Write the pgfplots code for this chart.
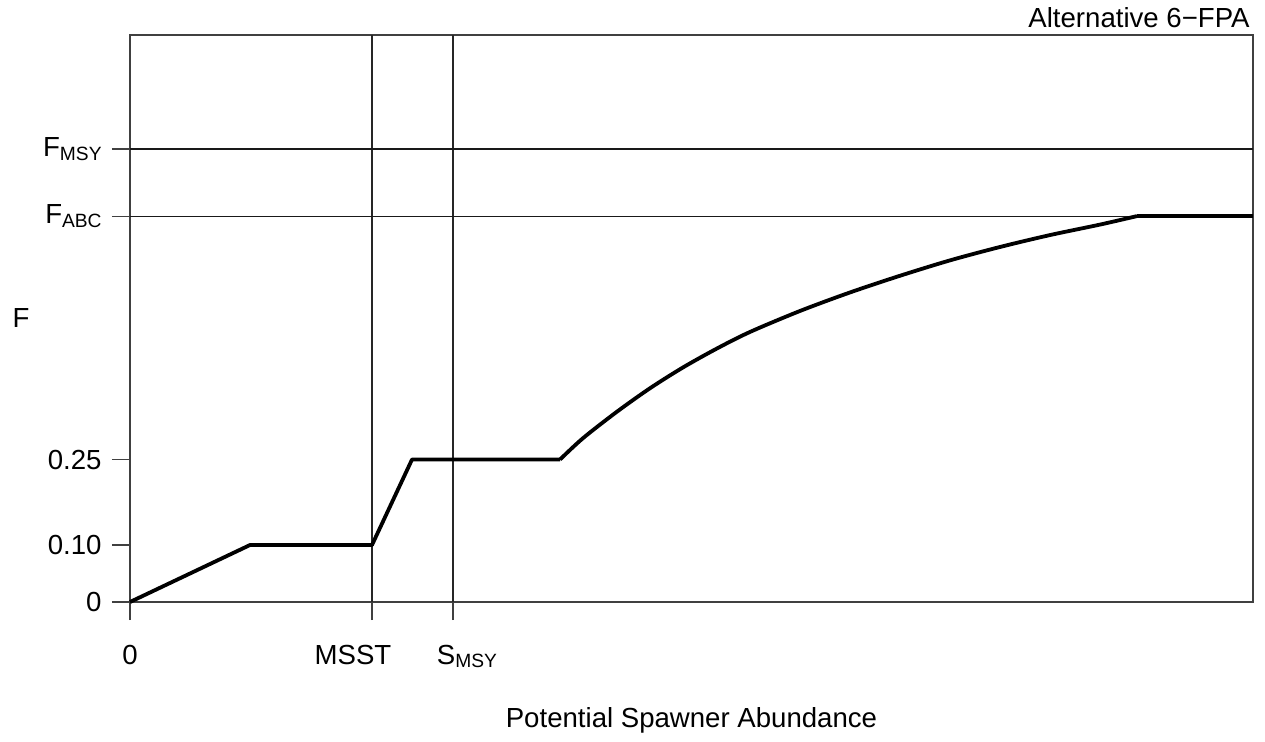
\documentclass[border=0pt]{standalone}
\usepackage{fontspec}
\setmainfont{Liberation Sans}
\usepackage{pgfplots}
\pgfplotsset{compat=1.18}

\newcommand{\sub}[1]{\raisebox{-1.7pt}{\fontsize{9.6}{10}\selectfont #1}}

% harvest control rule, x in arbitrary abundance units (S_MSY = 323)
\pgfplotstableread{
x     F
0     0
120   0.10
242   0.10
282   0.25
430   0.25
}\hcrlow
\pgfplotstableread{
x     F
430   0.25
453   0.2875
487   0.3340
520   0.3751
553   0.4116
587   0.4449
620   0.4739
670   0.5107
720   0.5432
770   0.5725
820   0.5995
870   0.6230
920   0.6439
970   0.6623
1007  0.6772
}\hcrcurve
\pgfplotstableread{
x     F
1007  0.6772
1123  0.6772
}\hcrtop

\begin{document}
\fontsize{13.8}{16}\selectfont
\begin{tikzpicture}
\begin{axis}[
    name=ax,
    scale only axis,
    width=561.5pt, height=283.5pt,
    xmin=0, xmax=1123, ymin=0, ymax=0.995,
    axis line style={black!75, line width=0.6pt},
    tick style={black!75, line width=0.6pt},
    tick align=outside,
    major tick length=9pt,
    xtick pos=bottom, ytick pos=left,
    xtick={0,242,323},
    xticklabels={0,{\hspace*{-19pt}MSST},{S\sub{MSY}\hspace*{-14pt}}},
    ytick={0,0.10,0.25,0.677,0.795},
    yticklabels={0,0.10,0.25,F\sub{ABC},F\sub{MSY}},
    ticklabel style={font=\fontsize{13.8}{16}\selectfont},
    xticklabel style={anchor=base, yshift=-22pt},
    yticklabel style={anchor=east, inner sep=0pt, xshift=-5pt},
    xlabel={Potential Spawner Abundance},
    ylabel={F},
    every axis x label/.style={at={(rel axis cs:0.5,0)}, anchor=base, yshift=-62.5pt, font=\fontsize{13.8}{16}\selectfont},
    every axis y label/.style={at={(rel axis cs:0,0.5)}, anchor=center, xshift=-54.5pt, font=\fontsize{13.8}{16}\selectfont},
    clip=false,
]
% reference lines
\addplot[black!85, line width=0.6pt] coordinates {(242,0) (242,0.995)};
\addplot[black!85, line width=0.6pt] coordinates {(323,0) (323,0.995)};
\addplot[black!90, line width=0.6pt] coordinates {(0,0.795) (1123,0.795)};
\addplot[black!90, line width=0.6pt] coordinates {(0,0.677) (1123,0.677)};
% control rule
\addplot[black, line width=1.9pt, line join=round] table[x=x, y=F] {\hcrlow};
\addplot[black, line width=1.9pt, smooth, tension=0.5] table[x=x, y=F] {\hcrcurve};
\addplot[black, line width=1.9pt] table[x=x, y=F] {\hcrtop};
\end{axis}
\node[anchor=base east, inner sep=0pt] at ([xshift=-1.5pt, yshift=3.5pt]ax.north east) {Alternative 6−FPA};
\path ([xshift=-65pt, yshift=-67.5pt]ax.south west) rectangle ([xshift=6pt, yshift=17.5pt]ax.north east);
\end{tikzpicture}
\end{document}
